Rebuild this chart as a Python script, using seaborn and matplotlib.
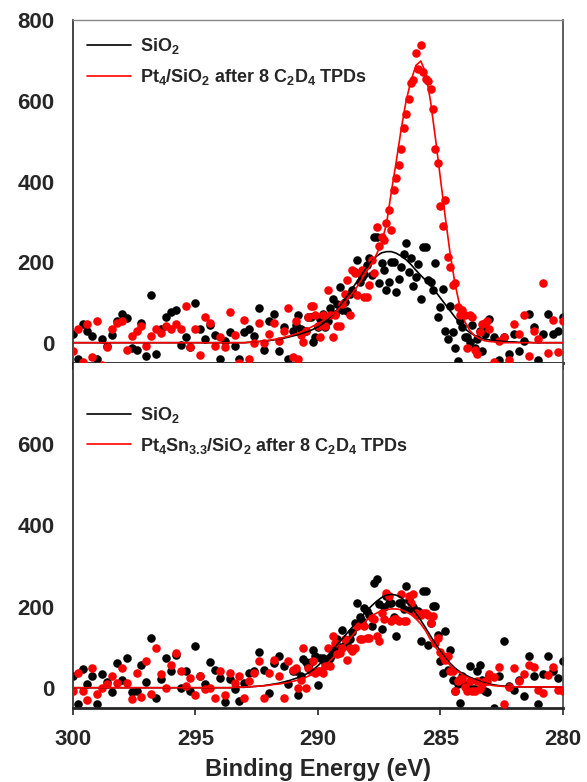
import numpy as np
import pandas as pd
import matplotlib
matplotlib.use("Agg")
import matplotlib.pyplot as plt
import seaborn as sns

# C 1s XPS spectra, binding energy 300 -> 280 eV in 0.2 eV steps
energy = np.linspace(300, 280, 101)
# extra points read in the peak region (290.9 -> 283.1 eV, odd tenths)
energy_peak = np.linspace(290.9, 283.1, 40)

# top panel: measured points
sio2_top = [22, -41, 47, 30, 17, -41, 8, -8, 20, 55,
            72, 62, -13, -17, 50, -33, 118, -28, 33, 63,
            75, 80, -5, 15, -10, 98, 33, 10, 45, 20,
            -40, 5, 27, -8, -41, 27, 35, 17, 85, -17,
            55, 72, -20, 40, -40, 30, 68, 28, 63, 1,
            40, 72, 55, 109, 95, 80, 78, 130, 205, 163,
            193, 168, 263, 197, 130, 201, 126, 188, 247, 209,
            163, 109, 238, 151, 197, 88, 30, 92, -12, 55,
            13, 1, -12, 30, 22, 59, 13, -42, 13, -28,
            22, -20, 5, 72, 38, -43, 22, 72, 22, 30,
            63]
sio2_top_peak = [45, 33, 28, 63, 13, 60, 40, 85, 70, 138,
                 100, 120, 175, 150, 170, 210, 263, 147, 180, 150,
                 200, 159, 220, 176, 140, 195, 238, 155, 130, 63,
                 134, 10, 26, -45, 40, 15, 45, 10, -20, 35]
pt4_top = [-20, 35, -49, 47, -35, 55, -55, -10, 35, 48,
           55, -17, 17, 30, 42, -8, 17, 35, 25, 42,
           35, 47, 35, 90, -10, 35, -30, 65, 50, -8,
           15, -10, 76, 20, -50, 57, -40, 0, 50, 0,
           22, 50, 5, 30, 85, -35, -41, 1, 63, 92,
           42, 68, 130, 13, 42, 97, 155, 180, 118, 180,
           113, 205, 288, 263, 297, 280, 409, 480, 568, 645,
           718, 738, 655, 630, 480, 338, 355, 188, 147, 68,
           68, 68, -17, 26, 48, 35, -49, 5, 13, -42,
           47, 22, 68, -33, 30, 10, 147, -25, 57, -22,
           55]
pt4_top_peak = [55, 20, 30, 92, 68, 13, 42, 68, 68, 42,
                120, 68, 172, 172, 113, 143, 172, 240, 255, 330,
                380, 440, 534, 605, 651, 680, 673, 650, 580, 447,
                290, 213, 143, 88, 80, -12, 65, -28, 47, 55]

# top panel: fitted curves
sio2_top_fit = [0] * 30 + [0, 0, 0, 0, 0, 0, 1, 2, 3, 4,
                           5, 7, 9, 11, 14, 17, 20, 24, 28, 33,
                           39, 47, 57, 69, 83, 99, 116, 134, 152, 170,
                           188, 203, 215, 223, 226, 226, 222, 215, 206, 194,
                           180, 167, 155, 142, 127, 111, 95, 79, 63, 48,
                           35, 25, 18, 13, 9, 7, 5, 4, 3, 2,
                           2, 1, 1, 1, 0, 0, 0, 0, 0, 0,
                           0]
pt4_top_fit = [0] * 30 + [0, 0, 0, 0, 0, 0, 1, 2, 3, 4,
                          6, 8, 10, 13, 16, 20, 24, 29, 35, 41,
                          47, 54, 62, 71, 81, 93, 107, 122, 139, 158,
                          178, 198, 220, 248, 295, 375, 450, 530, 600, 650,
                          688, 699, 670, 598, 506, 408, 311, 220, 145, 89,
                          52, 30, 17, 10, 5, 3, 2, 1, 0, 0,
                          0, 0, 0, 0, 0, 0, 0, 0, 0, 0,
                          0]

# bottom panel: measured points
sio2_bot = [30, -40, 45, 10, 28, -40, 33, 15, -10, 61,
            20, 73, -10, -8, 57, 15, 123, -25, 22, 73,
            40, 80, 0, 40, -8, 102, 30, 10, 64, 44,
            25, -34, 21, -2, -33, 12, 37, 40, 87, 44,
            -12, 60, 79, 53, 9, 40, -17, 71, 54, 94,
            7, 73, 67, 82, 119, 143, 106, 136, 209, 164,
            188, 151, 267, 144, 225, 209, 127, 209, 250, 193,
            185, 114, 238, 160, 201, 65, 139, 94, -9, -38,
            7, 53, -2, 57, -7, 32, -50, 28, 114, 5,
            -5, 20, -20, 77, 28, -40, 35, 77, 40, 25,
            65]
sio2_bot_peak = [40, 30, 64, 64, 77, 73, 60, 73, 95, 100,
                 106, 119, 160, 175, 197, 180, 259, 205, 200, 209,
                 175, 209, 193, 215, 200, 190, 238, 106, 201, 130,
                 36, 44, 20, 10, 30, 7, -2, 40, 20, -10]
ptsn_bot = [-9, 36, -9, -30, 48, -16, 0, 10, 30, 12,
            48, 12, -28, 36, -23, 65, -15, 98, 33, 0,
            57, 85, 40, 5, 25, -17, 30, -2, 0, -25,
            40, -17, 36, 12, 28, -25, 17, 36, 65, -25,
            36, 69, 28, -25, 67, 44, 0, 98, 48, 65,
            40, 36, 98, 127, 82, 98, 69, 90, 151, 119,
            123, 172, 127, 185, 234, 164, 168, 230, 164, 209,
            185, 180, 185, 160, 110, 88, 69, 40, -9, 22,
            1, 16, -7, -2, 16, 34, 26, 50, -40, 2,
            48, 17, 33, 57, 52, -5, -14, 31, 52, -5,
            -9]
ptsn_bot_peak = [48, 20, 0, 40, 36, 40, 53, 53, 110, 86,
                 119, 98, 98, 119, 151, 123, 168, 114, 168, 225,
                 168, 164, 164, 225, 230, 180, 185, 180, 176, 123,
                 77, 77, 40, 16, 22, -9, -7, 16, 10, 16]

# bottom panel: fitted curves
sio2_bot_fit = [0] * 30 + [0, 0, 0, 0, 1, 1, 2, 3, 4, 5,
                           7, 9, 11, 14, 17, 21, 25, 30, 36, 44,
                           54, 66, 79, 93, 107, 121, 135, 149, 163, 177,
                           190, 202, 213, 222, 228, 230, 228, 222, 212, 199,
                           183, 166, 147, 127, 108, 90, 74, 60, 48, 39,
                           32, 26, 21, 16, 12, 9, 7, 5, 4, 3,
                           2, 2, 2, 2, 2, 2, 2, 2, 2, 2,
                           2]
ptsn_bot_fit = [0] * 30 + [0, 0, 0, 1, 1, 2, 2, 3, 4, 5,
                           6, 8, 9, 11, 13, 16, 19, 23, 28, 34,
                           40, 50, 61, 73, 86, 100, 114, 128, 142, 155,
                           167, 177, 184, 189, 192, 194, 194, 192, 187, 180,
                           170, 157, 140, 118, 100, 84, 69, 55, 44, 36,
                           29, 23, 18, 13, 10, 7, 5, 4, 3, 2,
                           2, 2, 2, 2, 2, 2, 2, 2, 2, 2,
                           2]

labels_top = [r"SiO$_2$", r"Pt$_4$/SiO$_2$ after 8 C$_2$D$_4$ TPDs"]
labels_bot = [r"SiO$_2$", r"Pt$_4$Sn$_{3.3}$/SiO$_2$ after 8 C$_2$D$_4$ TPDs"]

sns.set_style("ticks")
plt.rcParams["font.family"] = ["Liberation Sans", "DejaVu Sans"]
plt.rcParams["font.weight"] = "bold"
plt.rcParams["mathtext.fontset"] = "custom"
plt.rcParams["mathtext.rm"] = "Liberation Sans:bold"
plt.rcParams["mathtext.it"] = "Liberation Sans:bold"
plt.rcParams["mathtext.bf"] = "Liberation Sans:bold"
plt.rcParams["mathtext.default"] = "rm"

fig = plt.figure(figsize=(5.87, 7.82), dpi=100)
ax_top = fig.add_axes([0.124, 0.536, 0.835, 0.438])
ax_bot = fig.add_axes([0.124, 0.0946, 0.835, 0.4414])

panels = [
    (ax_top, sio2_top, pt4_top, sio2_top_peak, pt4_top_peak,
     sio2_top_fit, pt4_top_fit, labels_top, 0.995),
    (ax_bot, sio2_bot, ptsn_bot, sio2_bot_peak, ptsn_bot_peak,
     sio2_bot_fit, ptsn_bot_fit, labels_bot, 0.92),
]

for ax, blk, red, blk_pk, red_pk, blk_fit, red_fit, labels, leg_y in panels:
    pts = pd.concat([
        pd.DataFrame({"energy": energy, "blk": blk, "red": red}),
        pd.DataFrame({"energy": energy_peak, "blk": blk_pk, "red": red_pk}),
    ], ignore_index=True)
    fits = pd.DataFrame({"energy": energy, "blk_fit": blk_fit,
                         "red_fit": red_fit})
    sns.scatterplot(data=pts, x="energy", y="blk", color="black", s=38,
                    linewidth=0, ax=ax, zorder=2)
    sns.scatterplot(data=pts, x="energy", y="red", color="#ff0000", s=38,
                    linewidth=0, ax=ax, zorder=3)
    sns.lineplot(data=fits, x="energy", y="blk_fit", color="black", lw=1.2,
                 ax=ax, label=labels[0], zorder=4)
    sns.lineplot(data=fits, x="energy", y="red_fit", color="#ff0000", lw=1.2,
                 ax=ax, label=labels[1], zorder=5)

    ax.set_xlim(300, 280)
    ax.set_ylim(-50, 800)
    ax.set_xticks([300, 295, 290, 285, 280])
    ax.set_ylabel("")
    ax.set_xlabel("")
    ax.tick_params(axis="y", length=0, pad=13, labelsize=16)
    ax.tick_params(axis="x", direction="out", length=5, width=1.2,
                   pad=10, labelsize=16)
    for lab in ax.get_xticklabels() + ax.get_yticklabels():
        lab.set_fontweight("bold")
    ax.spines["left"].set_linewidth(1.2)
    ax.spines["bottom"].set_linewidth(2.0)
    ax.spines["right"].set_linewidth(1.2)
    ax.spines["right"].set_color("#444444")
    ax.spines["top"].set_linewidth(1.0)
    ax.spines["top"].set_color("#888888")

    ax.legend(loc="upper left", bbox_to_anchor=(0.0, leg_y), frameon=False,
              prop={"family": "Liberation Sans", "weight": "bold", "size": 13},
              handlelength=2.4, handletextpad=0.55, labelspacing=0.6,
              borderaxespad=0.4)

ax_top.set_yticks([0, 200, 400, 600, 800])
ax_top.tick_params(axis="x", labelbottom=False)
ax_bot.set_yticks([0, 200, 400, 600])
ax_bot.spines["top"].set_visible(False)
ax_bot.set_xlabel("Binding Energy (eV)", fontsize=17, fontweight="bold",
                  labelpad=6)

fig.savefig("out.png", dpi=100)
